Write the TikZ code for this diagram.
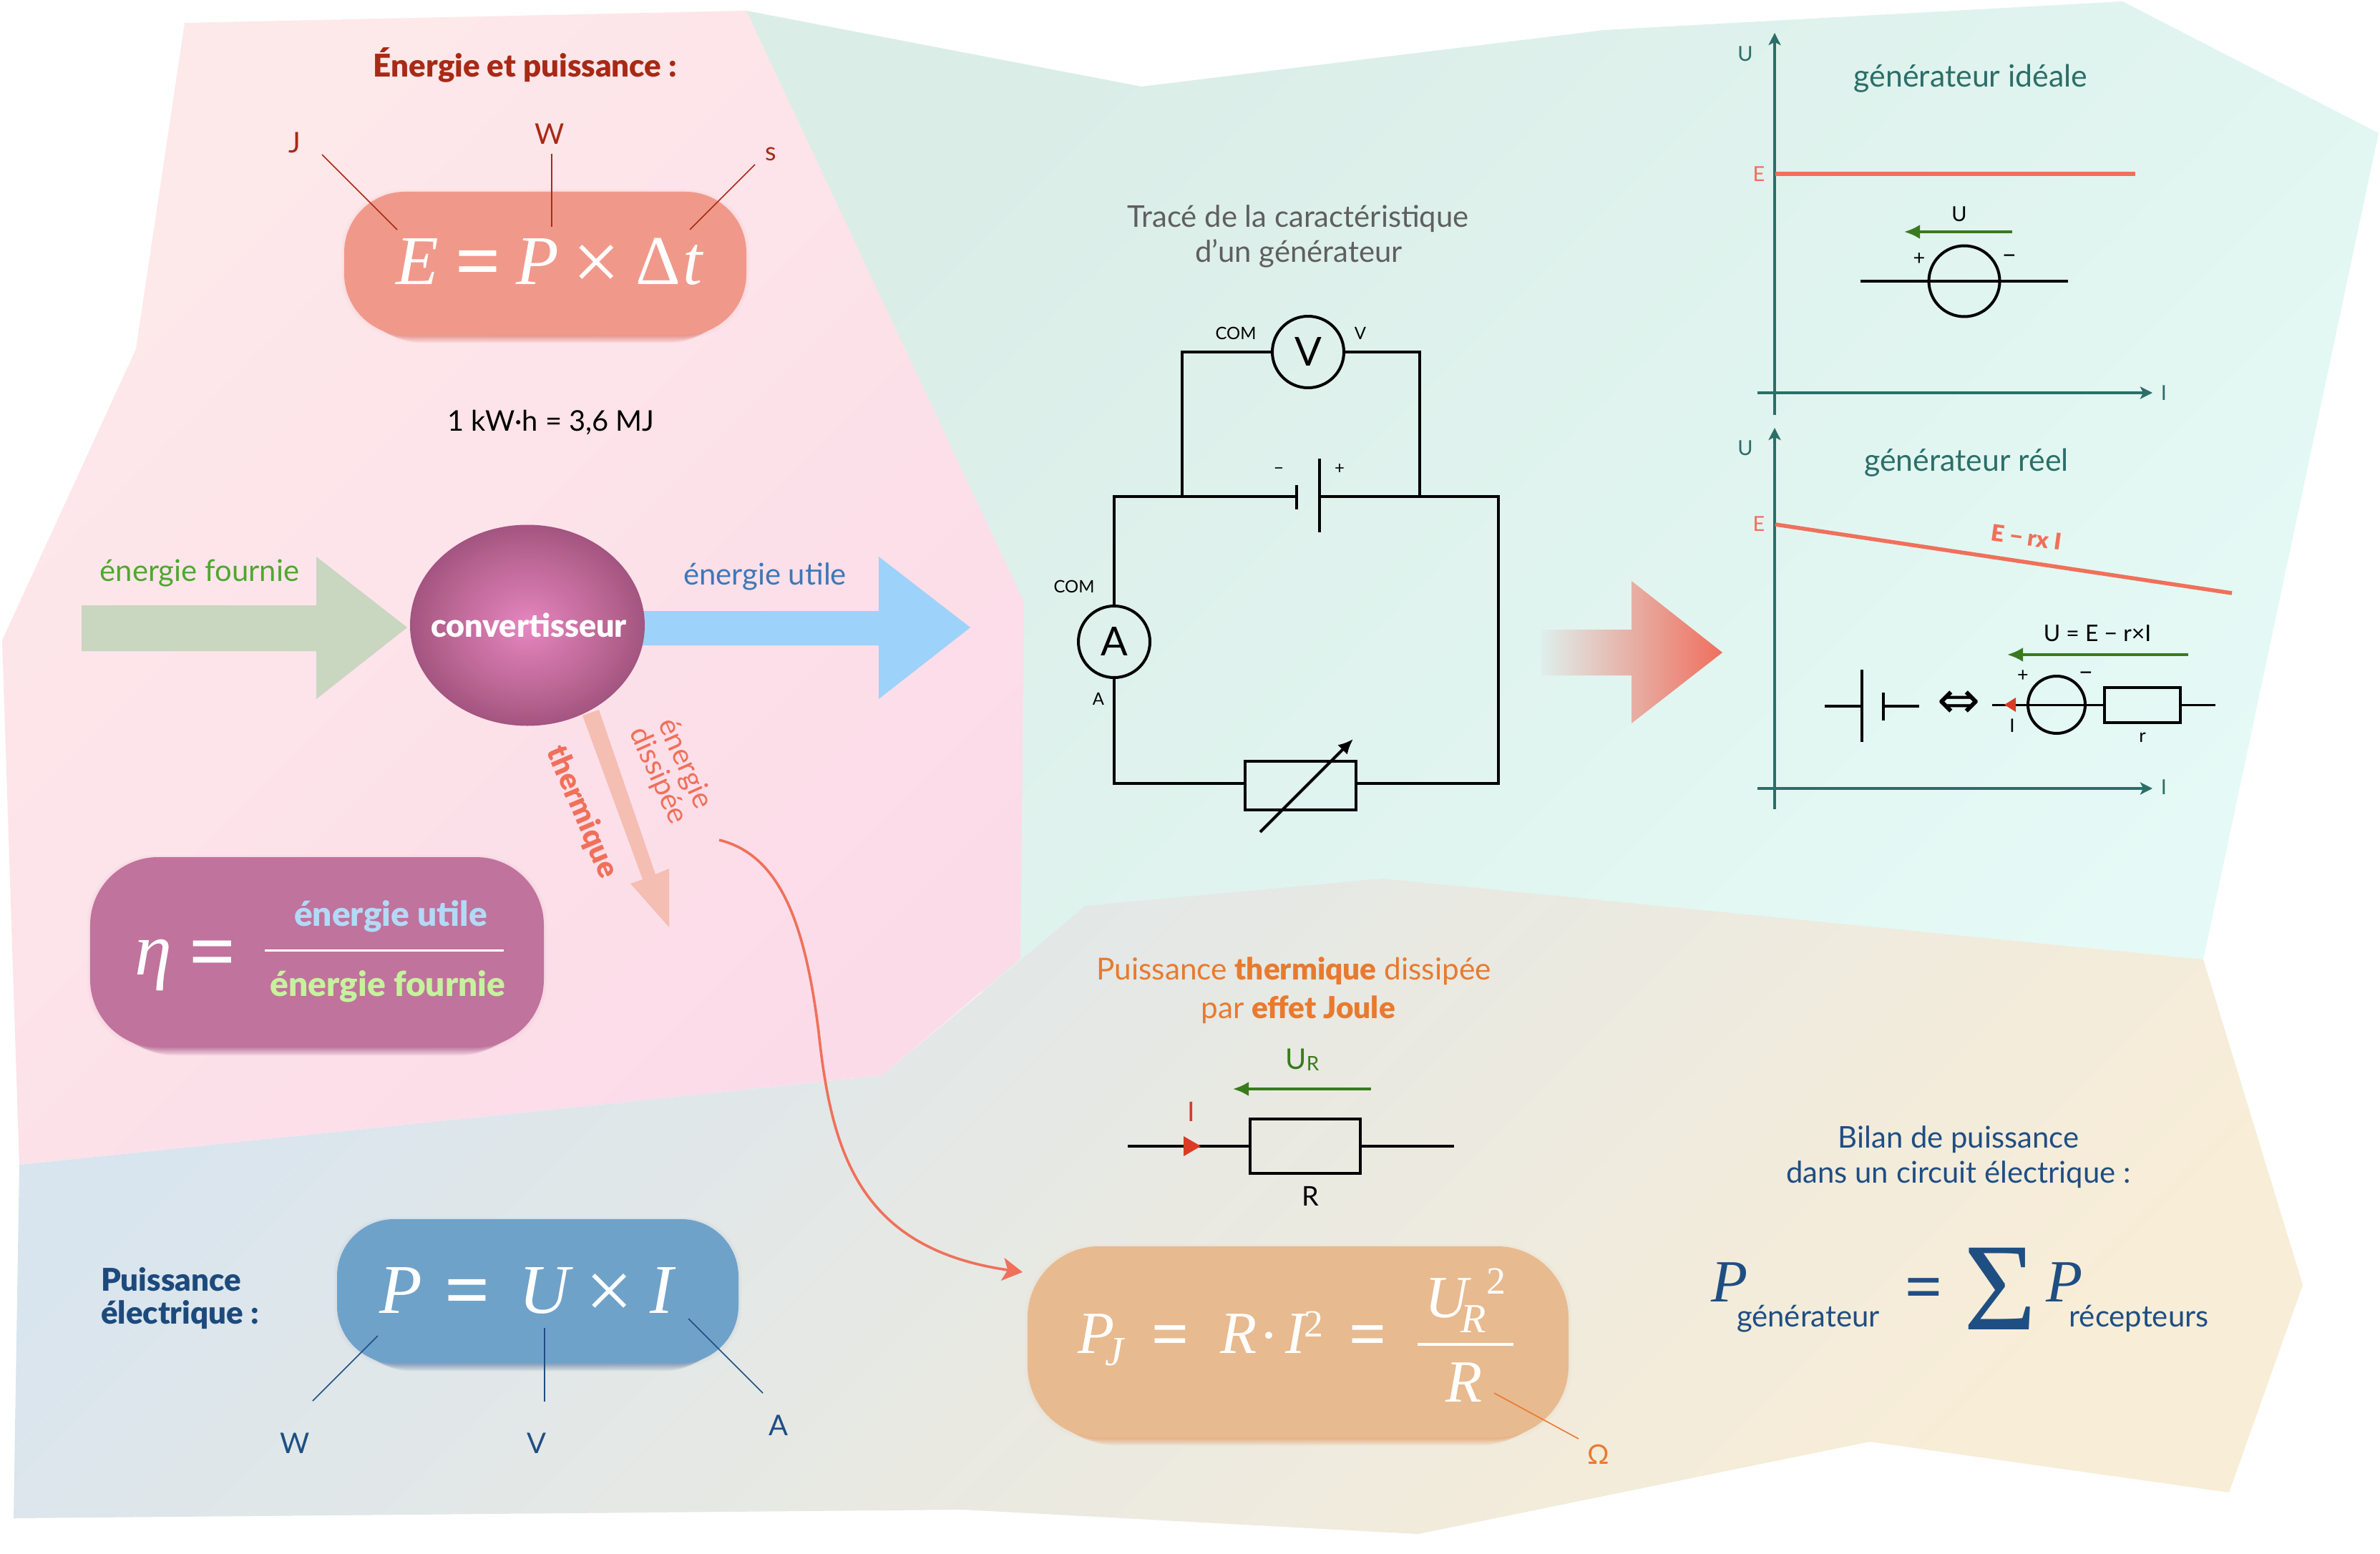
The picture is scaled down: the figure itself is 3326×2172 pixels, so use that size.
\documentclass[tikz,border=0pt]{standalone}
\usepackage{fontspec}
\setmainfont{Lato}
\newfontfamily\tmf{Liberation Serif}
\newfontfamily\djv{DejaVu Sans}
\newfontfamily\blk{Lato Black}
\usetikzlibrary{arrows.meta,shapes.geometric}
\newcommand\hexc[1]{\definecolor{#1}{HTML}{#1}}
\hexc{DBEDE7}\hexc{E5FAF6}\hexc{FDE9EA}\hexc{FCDBE9}\hexc{D9E5EE}\hexc{F8EDD7}\hexc{F5BEB3}\hexc{C9D6C0}\hexc{9DD2FB}\hexc{4FA82F}\hexc{3D78B8}\hexc{B2DAF6}\hexc{C6F29E}\hexc{1D4A7C}\hexc{5F5F5F}\hexc{DFEFEC}\hexc{E7A5B2}\hexc{EF6F5E}
\definecolor{redT}{HTML}{A82A16}
\definecolor{salmon}{HTML}{F0998A}
\definecolor{salmonS}{HTML}{D9503A}
\definecolor{plum}{HTML}{C0739C}
\definecolor{plumS}{HTML}{8E2E68}
\definecolor{blueB}{HTML}{6FA2C9}
\definecolor{blueS}{HTML}{2F5F96}
\definecolor{orangeB}{HTML}{E8BA8F}
\definecolor{orangeS}{HTML}{E87A30}
\definecolor{coral}{HTML}{F0705A}
\definecolor{navy}{HTML}{1F4E82}
\definecolor{tealD}{HTML}{2C6E68}
\definecolor{greenW}{HTML}{3A7A1E}
\definecolor{redW}{HTML}{DB3A25}
\definecolor{orangeT}{HTML}{E87A2F}
\pgfdeclareradialshading{orb}{\pgfpointorigin}{rgb(0bp)=(.91,.53,.76);rgb(7bp)=(.83,.47,.68);rgb(17bp)=(.73,.40,.58);rgb(25bp)=(.64,.33,.50);rgb(50bp)=(.64,.33,.50)}
\newcommand\fsz[1]{\fontsize{#1}{#1}\selectfont}
\newcommand\mi[1]{{\tmf\itshape #1}}
\newcommand\softbox[8]{%
  \foreach \i in {1,...,9}{\fill[#8,opacity=.065,rounded corners=#6bp] ({#2+\i*2.4},{#3+\i*1.2}) rectangle ({#4-\i*2.4},{#5+\i*1.25});}
  \foreach \i in {1,...,3}{\fill[#8,opacity=.015,rounded corners=#6bp] ({#2-\i*1.5},{#3-\i*1.0}) rectangle ({#4+\i*1.5},{#5+\i*1.5});}
  \pgfmathsetmacro\bw{#4-#2}\pgfmathsetmacro\bh{#5-#3}
  \node[rectangle,fill=#7,rounded corners=#6bp,inner sep=0,minimum width=\bw bp,minimum height=\bh bp] (#1) at ({(#2+#4)/2},{(#3+#5)/2}) {};
}
\tikzset{
  txt/.style={inner sep=0,outer sep=0,align=center},
  base/.style={txt,anchor=base},
  wire/.style={black,line width=4bp,line join=miter},
  fwire/.style={black,line width=3.4bp},
  meter/.style={circle,draw=black,line width=4bp,inner sep=0,outer sep=0,minimum size=100bp,font=\fsz{56}},
  source/.style={circle,draw=black,line width=4bp,inner sep=0,outer sep=0},
  res/.style={rectangle,draw=black,line width=4bp,inner sep=0,outer sep=0},
  axis/.style={tealD,line width=3.4bp,-{Stealth[length=17bp,width=17bp,inset=4bp]}},
  leader/.style={line width=1.6bp},
  vgreen/.style={greenW,line width=3.6bp,-{Latex[length=22bp,width=20bp]}},
  charac/.style={coral,line width=5.5bp},
  small/.style={txt,font=\fsz{24}},
  axl/.style={txt,font=\fsz{29},text=tealD},
}
\begin{document}
\begin{tikzpicture}[x=1bp,y=-1bp]
\useasboundingbox (0,0) rectangle (3326,2172);
\fill[white] (0,0) rectangle (3326,2172);
% --- zones
\shade[left color=DBEDE7,right color=E5FAF6,shading angle=45] (1043,15)--(1595,121)--(2242,42)--(2966,2)--(3324,186)--(3079,1341)--(1932,1500)--(1400,1500)--cycle;
\shade[left color=FDE9EA,right color=FCDBE9,shading angle=45] (258,32)--(1043,15)--(1431,842)--(1426,1340)--(1233,1503)--(27,1628)--(3,895)--(190,488)--cycle;
\shade[left color=D9E5EE,right color=F8EDD7,shading angle=45] (27,1628)--(1233,1503)--(1517,1266)--(1932,1228)--(3079,1341)--(3218,1796)--(3115,2086)--(2613,2015)--(1982,2144)--(1345,2110)--(19,2122)--cycle;
% --- top left
\node[txt,font=\blk\fsz{44},text=redT] (title) at (734,91) {Énergie et puissance :};
\softbox{boxE}{481}{268}{1043}{468}{85}{salmon}{salmonS}
\node[base,font=\tmf\itshape\fsz{98},text=white] (eqE1) at (583,397) {E};
\node[base,font=\tmf\bfseries\fsz{112},text=white] (eqE2) at (668,402) {=};
\node[base,font=\tmf\itshape\fsz{98},text=white] (eqE3) at (751,397) {P};
\node[base,font=\tmf\fsz{118},text=white] (eqE4) at (834,405) {×};
\node[base,font=\tmf\fsz{98},text=white] (eqE5) at (920,397) {Δ};
\node[base,font=\tmf\itshape\fsz{98},text=white] (eqE6) at (968,397) {t};
\node[txt,font=\fsz{40},text=redT] (lJ) at (412,199) {J};
\node[txt,font=\fsz{40},text=redT] (lW) at (768,187) {W};
\node[txt,font=\fsz{36},text=redT] (ls) at (1077,215) {s};
\coordinate (j1) at (450,216); \coordinate (j2) at (555,321);
\coordinate (w1) at (771,215); \coordinate (w2) at (771,317);
\coordinate (s1) at (1055,230); \coordinate (s2) at (964,321);
\draw[leader,redT] (j1)--(j2);
\draw[leader,redT] (w1)--(w2);
\draw[leader,redT] (s1)--(s2);
\node[txt,font=\fsz{40}] (kwh) at (770,591) {1 kW·h = 3,6 MJ};
% --- converter
\fill[F5BEB3] (814,1000)--(837,992)--(916,1222)--(935,1214)--(935,1296)--(881,1235)--(898,1229)--cycle;
\fill[C9D6C0] (114,846)--(442,846)--(442,778)--(569,877)--(442,977)--(442,910)--(114,910)--cycle;
\fill[9DD2FB] (890,854)--(1228,854)--(1228,778)--(1356,877)--(1228,977)--(1228,902)--(890,902)--cycle;
\node[ellipse,shading=orb,minimum width=328bp,minimum height=281bp,inner sep=0,outer sep=0] (conv) at (737,874) {};
\node[txt,font=\blk\fsz{45},text=white] (convt) at (739,874) {convertisseur};
\node[txt,font=\fsz{42},text=4FA82F] (ef) at (279,801) {énergie fournie};
\node[txt,font=\fsz{42},text=3D78B8] (eu) at (1069,806) {énergie utile};
\node[txt,font=\blk\fsz{42},text=coral,rotate=-67] (therm) at (813,1135) {thermique};
\node[txt,font=\fsz{41},text=coral,rotate=-66,align=center] (diss) at (938,1076) {\fontsize{41}{49}\selectfont énergie\\dissipée};
% --- eta
\softbox{boxEta}{126}{1198}{760}{1464}{95}{plum}{plumS}
\node[base,font=\tmf\itshape\fsz{105},text=white] (eta) at (214,1362) {η};
\node[base,font=\tmf\bfseries\fsz{115},text=white] (etaeq) at (297,1368) {=};
\coordinate (fr1) at (370,1328); \coordinate (fr2) at (704,1328);
\draw[white,line width=3bp] (fr1)--(fr2);
\node[txt,font=\blk\fsz{48},text=B2DAF6] (fu) at (546,1281) {énergie utile};
\node[txt,font=\blk\fsz{48},text=C6F29E] (ff) at (542,1379) {énergie fournie};
% --- P=UI
\node[txt,font=\blk\fsz{44},text=1D4A7C,anchor=west] (pu1) at (141,1788) {Puissance};
\node[txt,font=\blk\fsz{44},text=1D4A7C,anchor=west] (pu2) at (141,1838) {électrique :};
\softbox{boxP}{471}{1704}{1032}{1905}{80}{blueB}{blueS}
\node[base,font=\tmf\fsz{98},text=white] (Pp) at (560,1835) {\mi{P}};
\node[base,font=\tmf\bfseries\fsz{112},text=white] (Pe) at (653,1840) {=};
\node[base,font=\tmf\fsz{98},text=white] (Pu) at (761,1835) {\mi{U}};
\node[base,font=\tmf\fsz{118},text=white] (Px) at (852,1843) {×};
\node[base,font=\tmf\fsz{98},text=white] (Pi) at (925,1835) {\mi{I}};
\node[txt,font=\fsz{40},text=navy] (lw2) at (412,2017) {W};
\node[txt,font=\fsz{40},text=navy] (lv2) at (750,2017) {V};
\node[txt,font=\fsz{40},text=navy] (la2) at (1088,1992) {A};
\coordinate (pa1) at (528,1867); \coordinate (pa2) at (437,1958);
\coordinate (pb1) at (761,1856); \coordinate (pb2) at (761,1959);
\coordinate (pc1) at (962,1843); \coordinate (pc2) at (1066,1947);
\draw[leader,navy] (pa1)--(pa2);
\draw[leader,navy] (pb1)--(pb2);
\draw[leader,navy] (pc1)--(pc2);
% --- main circuit
\node[txt,font=\fsz{42},text=5F5F5F] (tr1) at (1814,306) {Tracé de la caractéristique};
\node[txt,font=\fsz{42},text=5F5F5F] (tr2) at (1815,354) {d’un générateur};
\node[meter] (Vm) at (1828,492) {V};
\node[meter] (Am) at (1557,897) {A};
\node[res,minimum width=155bp,minimum height=68bp] (Rh) at (1817,1098) {};
\coordinate (b1) at (1812,694); \coordinate (b2) at (1844,694);
\coordinate (nl) at (1652,694); \coordinate (nr) at (1984,694);
\coordinate (rw) at (1740,1095); \coordinate (re) at (1895,1095);
\draw[wire] (Am.north)--(1557,694)--(b1);
\draw[wire] (b2)--(2094,694)--(2094,1095)--(re);
\draw[wire] (rw)--(1557,1095)--(Am.south);
\draw[wire] (Vm.west)--(1652,492)--(nl);
\draw[wire] (Vm.east)--(1984,492)--(nr);
\draw[wire] (1812,678)--(1812,712);
\draw[wire] (1844,641)--(1844,744);
\coordinate (ra) at (1761,1163); \coordinate (rb) at (1891,1033);
\draw[black,line width=4bp,-{Latex[length=21bp,width=19bp]}] (ra)--(rb);
\node[small] (com1) at (1727,466) {COM};
\node[small] (vv) at (1901,466) {V};
\node[small] (bm) at (1787,658) {−};
\node[small] (bp) at (1872,656) {+};
\node[small] (com2) at (1501,820) {COM};
\node[small] (aa) at (1535,977) {A};
% --- big arrow
\shade[left color=DFEFEC,middle color=E7A5B2,right color=EF6F5E] (2154,880)--(2280,880)--(2280,812)--(2407,912)--(2280,1011)--(2280,944)--(2154,944)--cycle;
% --- top graph
\coordinate (o1v) at (2480,580); \coordinate (o1t) at (2480,46);
\coordinate (o1h) at (2456,549); \coordinate (o1r) at (3008,549);
\draw[axis] (o1v)--(o1t);
\draw[axis] (o1h)--(o1r);
\node[axl] (u1) at (2439,75) {U};
\node[axl,text=coral] (e1) at (2458,243) {E};
\node[axl] (i1) at (3024,549) {I};
\node[txt,font=\fsz{43},text=tealD] (gi) at (2754,110) {générateur idéale};
\coordinate (rl1) at (2481,243); \coordinate (rl2) at (2984,243);
\draw[charac] (rl1)--(rl2);
\node[source,minimum size=99bp] (S1) at (2745,393) {};
\coordinate (w1a) at (2600,393); \coordinate (w1b) at (2890,393);
\draw[fwire] (w1a)--(w1b);
\coordinate (ua) at (2812,324); \coordinate (ub) at (2661,324);
\draw[vgreen] (ua)--(ub);
\node[txt,font=\fsz{29}] (u1l) at (2738,299) {U};
\node[txt,font=\fsz{29}] (sp1) at (2682,362) {+};
\node[txt,font=\fsz{34}] (sm1) at (2808,362) {−};
% --- lower graph
\coordinate (o2v) at (2480,1131); \coordinate (o2t) at (2480,598);
\coordinate (o2h) at (2456,1102); \coordinate (o2r) at (3008,1102);
\draw[axis] (o2v)--(o2t);
\draw[axis] (o2h)--(o2r);
\node[axl] (u2) at (2439,626) {U};
\node[axl,text=coral] (e2) at (2458,732) {E};
\node[axl] (i2) at (3024,1100) {I};
\node[txt,font=\fsz{43},text=tealD] (gr) at (2748,647) {générateur réel};
\coordinate (rr1) at (2481,733); \coordinate (rr2) at (3119,829);
\draw[charac] (rr1)--(rr2);
\node[txt,font=\blk\fsz{32},text=coral,rotate=-8] (erI) at (2832,751) {E − rx I};
\coordinate (g1) at (2550,987); \coordinate (g2) at (2602,987);
\coordinate (g3) at (2632,987); \coordinate (g4) at (2682,987);
\draw[wire] (g1)--(g2);
\draw[wire] (g3)--(g4);
\draw[wire] (2602,936)--(2602,1037);
\draw[wire] (2632,968)--(2632,1007);
\node[txt,font=\djv\fsz{72}] (eqv) at (2738,985) {⇔};
\node[source,minimum size=80bp] (S2) at (2874,985) {};
\node[res,minimum width=106bp,minimum height=49bp] (r2) at (2994,985.5) {};
\coordinate (w2a) at (2784,985.5); \coordinate (w2b) at (3096,985.5);
\draw[fwire] (w2a)--(r2.west);
\draw[fwire] (r2.east)--(w2b);
\fill[redW] (2801,985)--(2817,975)--(2817,995)--cycle;
\node[txt,font=\fsz{26}] (ii2) at (2812,1014) {I};
\node[txt,font=\fsz{26}] (rr) at (2994,1031) {r};
\node[txt,font=\fsz{27}] (sp2) at (2827,945) {+};
\node[txt,font=\fsz{34}] (sm2) at (2915,945) {−};
\coordinate (ge1) at (3058,915); \coordinate (ge2) at (2805,915);
\draw[vgreen] (ge1)--(ge2);
\node[txt,font=\fsz{32}] (ueq) at (2931,885) {U = E − r×I};
% --- Joule
\node[txt,font=\fsz{42.5},text=orangeT] (pt1) at (1808,1357) {Puissance {\blk thermique} dissipée};
\node[txt,font=\fsz{42.5},text=orangeT] (pt2) at (1814,1411) {par {\blk effet Joule}};
\node[txt,text=greenW] (ur) at (1820,1481) {\fsz{40}U\raisebox{-2bp}{\fsz{28}R}};
\coordinate (ga) at (1916,1522); \coordinate (gb) at (1723,1522);
\draw[vgreen] (ga)--(gb);
\node[txt,font=\fsz{38},text=redW] (ij) at (1665,1554) {I};
\node[res,minimum width=154bp,minimum height=76bp] (Rj) at (1824,1602) {};
\coordinate (ja) at (1576,1602); \coordinate (jb) at (2032,1602);
\draw[fwire] (ja)--(Rj.west);
\draw[fwire] (Rj.east)--(jb);
\fill[redW] (1654,1588)--(1678,1602)--(1654,1616)--cycle;
\node[txt,font=\fsz{38}] (rj) at (1831,1672) {R};
% --- curve
\coordinate (cv1) at (1005,1174); \coordinate (cv2) at (1144,1442); \coordinate (cv3) at (1429,1778);
\draw[coral,line width=3.6bp,-{Stealth[length=28bp,width=32bp,inset=7bp]}] (cv1) .. controls (1090,1195) and (1125,1290) .. (cv2) .. controls (1162,1610) and (1200,1745) .. (cv3);
% --- PJ
\softbox{boxJ}{1436}{1742}{2192}{2009}{100}{orangeB}{orangeS}
\node[base,font=\tmf\itshape\fsz{84},text=white] (pjP) at (1532,1891) {P};
\node[base,font=\tmf\itshape\fsz{58},text=white] (pjJ) at (1557,1908) {J};
\node[base,font=\tmf\bfseries\fsz{92},text=white] (pjE) at (1636,1895) {=};
\node[base,font=\tmf\itshape\fsz{84},text=white] (pjR) at (1731,1891) {R};
\node[base,font=\tmf\bfseries\fsz{60},text=white] (pjdot) at (1773,1886) {·};
\node[base,font=\tmf\itshape\fsz{84},text=white] (pjI) at (1810,1891) {I};
\node[base,font=\tmf\fsz{54},text=white] (pj2) at (1836,1868) {2};
\node[base,font=\tmf\bfseries\fsz{92},text=white] (pjE2) at (1912,1895) {=};
\node[base,font=\tmf\itshape\fsz{84},text=white] (pjU) at (2022,1841) {U};
\node[base,font=\tmf\itshape\fsz{58},text=white] (pjUR) at (2059,1862) {R};
\node[base,font=\tmf\fsz{54},text=white] (pjU2) at (2091,1808) {2};
\coordinate (jf1) at (1981,1879); \coordinate (jf2) at (2115,1879);
\draw[white,line width=4bp] (jf1)--(jf2);
\node[base,font=\tmf\itshape\fsz{84},text=white] (pjD) at (2046,1959) {R};
\coordinate (om1) at (2088,1947); \coordinate (om2) at (2206,2011);
\draw[leader,orangeT] (om1)--(om2);
\node[txt,font=\fsz{38},text=orangeT] (om) at (2234,2033) {Ω};
% --- Bilan
\node[txt,font=\fsz{42},text=navy] (bl1) at (2737,1593) {Bilan de puissance};
\node[txt,font=\fsz{42},text=navy] (bl2) at (2737,1642) {dans un circuit électrique :};
\node[base,font=\tmf\fsz{84},text=navy] (bP) at (2417,1819) {\mi{P}};
\node[txt,font=\fsz{42},text=navy] (bg) at (2527,1843) {générateur};
\node[base,font=\tmf\bfseries\fsz{92},text=navy] (bE) at (2689,1829) {=};
\node[base,font=\tmf\fsz{175},text=navy] (bS) at (2795,1858) {Σ};
\node[base,font=\tmf\fsz{84},text=navy] (bP2) at (2885,1819) {\mi{P}};
\node[txt,font=\fsz{42},text=navy] (br) at (2989,1843) {récepteurs};
\end{tikzpicture}
\end{document}
